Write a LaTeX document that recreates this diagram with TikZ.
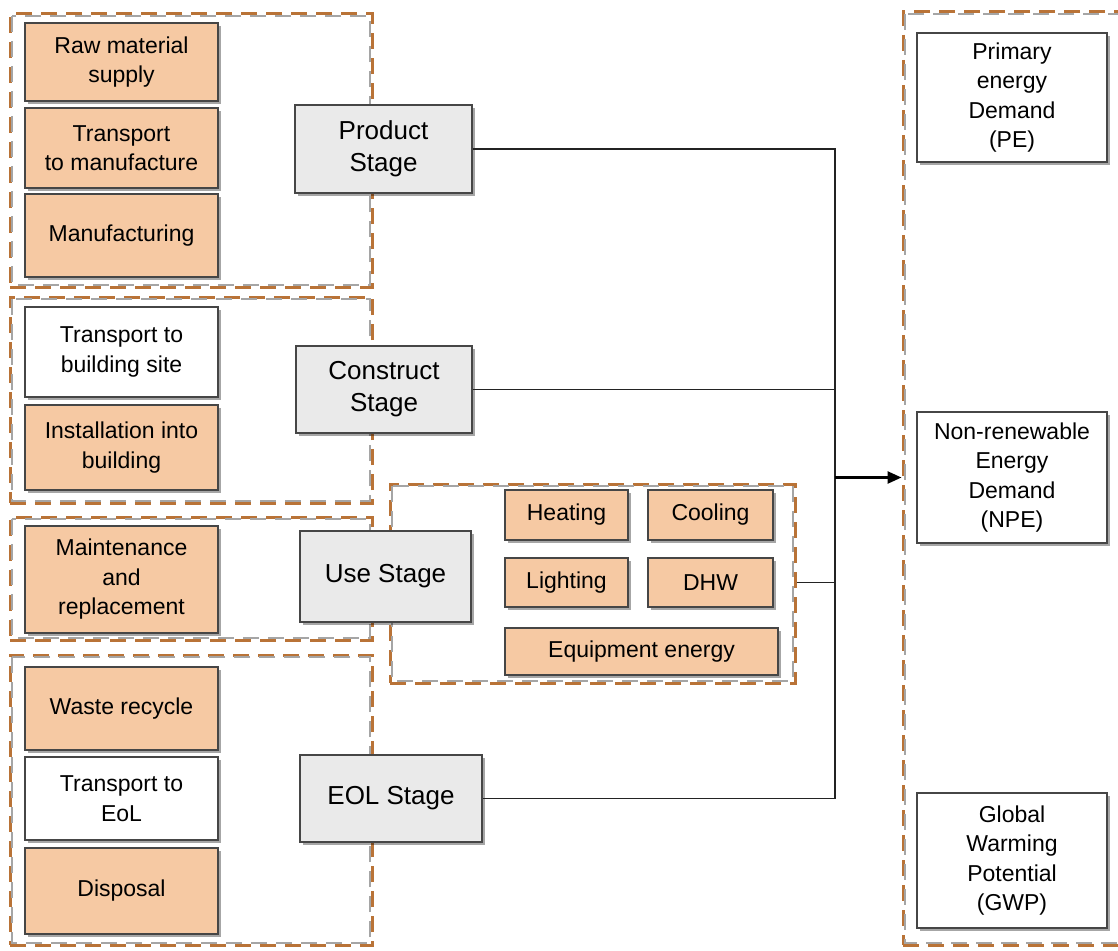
\documentclass[tikz,border=0pt]{standalone}
\usepackage{fontspec}
\setmainfont{Liberation Sans}
\usetikzlibrary{shadows,arrows.meta}
\definecolor{orfill}{RGB}{246,201,163}
\definecolor{stfill}{RGB}{234,234,234}
\definecolor{bord}{RGB}{70,70,70}
\definecolor{dashc}{RGB}{185,115,55}
\definecolor{dashg}{RGB}{165,165,165}
\definecolor{linec}{RGB}{35,35,35}
\tikzset{
  basebox/.style={draw=bord, line width=1.2pt, rectangle, inner sep=2pt, align=center,
    font=\fontsize{23}{29.5}\selectfont,
    drop shadow={shadow xshift=3pt, shadow yshift=-3pt, fill=black, opacity=0.35}},
  obox/.style={basebox, fill=orfill},
  wbox/.style={basebox, fill=white},
  stbox/.style={basebox, fill=stfill, font=\fontsize{26}{32}\selectfont},
  grp/.style={draw=dashc, line width=3pt, dash pattern=on 16pt off 9pt, rectangle, inner sep=0pt},
  grpin/.style={draw=dashg, line width=2.4pt, dash pattern=on 16pt off 9pt},
  conn/.style={draw=linec, line width=1.4pt},
}
\newcommand{\grpbox}[4]{%
  \node[grp, minimum width=#3, minimum height=#4] (#1) at #2 {};
  \draw[grpin] ([shift={(3.5,3.5)}]#1.north west) rectangle ([shift={(-3.5,-3.5)}]#1.south east);
}
\begin{document}
\begin{tikzpicture}[x=1pt,y=-1pt]
\clip (0,0) rectangle (1118,950);
\fill[white] (0,0) rectangle (1118,950);

% groups
\grpbox{g1}{(191,150.5)}{362pt}{273pt}
\grpbox{g2}{(191,400)}{362pt}{206pt}
\grpbox{g3}{(191,578.5)}{362pt}{123pt}
\grpbox{g4}{(191,800)}{362pt}{290pt}
\grpbox{gu}{(592.5,583.5)}{405pt}{199pt}
\grpbox{gr}{(1014,478.5)}{222pt}{933pt}

% product stage items
\node[obox, minimum width=193pt, minimum height=78pt] (raw) at (121.5,62) {Raw material\\supply};
\node[obox, minimum width=193pt, minimum height=80pt] (tman) at (121.5,148) {Transport\\to manufacture};
\node[obox, minimum width=193pt, minimum height=83pt] (manu) at (121.5,235.5) {Manufacturing};
% construct
\node[wbox, minimum width=193pt, minimum height=90pt] (tbs) at (121.5,352) {Transport to\\building site};
\node[obox, minimum width=193pt, minimum height=85pt] (inst) at (121.5,447.5) {Installation into\\building};
% use
\node[obox, minimum width=193pt, minimum height=107pt] (maint) at (121.5,579.5) {Maintenance\\and\\replacement};
% eol
\node[obox, minimum width=193pt, minimum height=83pt] (waste) at (121.5,708.5) {Waste recycle};
\node[wbox, minimum width=193pt, minimum height=83pt] (teol) at (121.5,798.5) {Transport to\\EoL};
\node[obox, minimum width=193pt, minimum height=86pt] (disp) at (121.5,891) {Disposal};

% stages
\node[stbox, minimum width=177pt, minimum height=88pt] (prod) at (383.5,149) {Product\\Stage};
\node[stbox, minimum width=176pt, minimum height=87pt] (cons) at (384,389.5) {Construct\\Stage};
\node[stbox, minimum width=171pt, minimum height=91pt] (use) at (385.5,576.5) {Use Stage};
\node[stbox, minimum width=182pt, minimum height=87pt] (eol) at (391,798.5) {EOL Stage};

% use sub items
\node[obox, minimum width=123pt, minimum height=50pt] (heat) at (566.5,515) {Heating};
\node[obox, minimum width=125pt, minimum height=50pt] (cool) at (710.5,515) {Cooling};
\node[obox, minimum width=123pt, minimum height=49pt] (light) at (566.5,582.5) {Lighting};
\node[obox, minimum width=125pt, minimum height=49pt] (dhw) at (710.5,582.5) {DHW};
\node[obox, minimum width=273pt, minimum height=47pt] (equip) at (641.5,651.5) {Equipment energy};

% outputs
\node[wbox, minimum width=190pt, minimum height=129pt] (pe) at (1012,97.5) {Primary\\energy\\Demand\\(PE)};
\node[wbox, minimum width=190pt, minimum height=131pt] (npe) at (1012,477.5) {Non-renewable\\Energy\\Demand\\(NPE)};
\node[wbox, minimum width=190pt, minimum height=135pt] (gwp) at (1012,860.5) {Global\\Warming\\Potential\\(GWP)};

% connectors
\coordinate (bus) at (835,0);
\draw[conn] (prod.east) -- (prod.east -| bus) -- (eol.east -| bus) -- (eol.east);
\draw[conn] (cons.east) -- (cons.east -| bus);
\draw[conn] (gu.east |- dhw) -- (bus |- dhw);
\draw[draw=black, line width=2.6pt, -{Triangle[length=14pt,width=12pt]}] (bus |- npe) -- (gr.west |- npe);
\end{tikzpicture}
\end{document}
